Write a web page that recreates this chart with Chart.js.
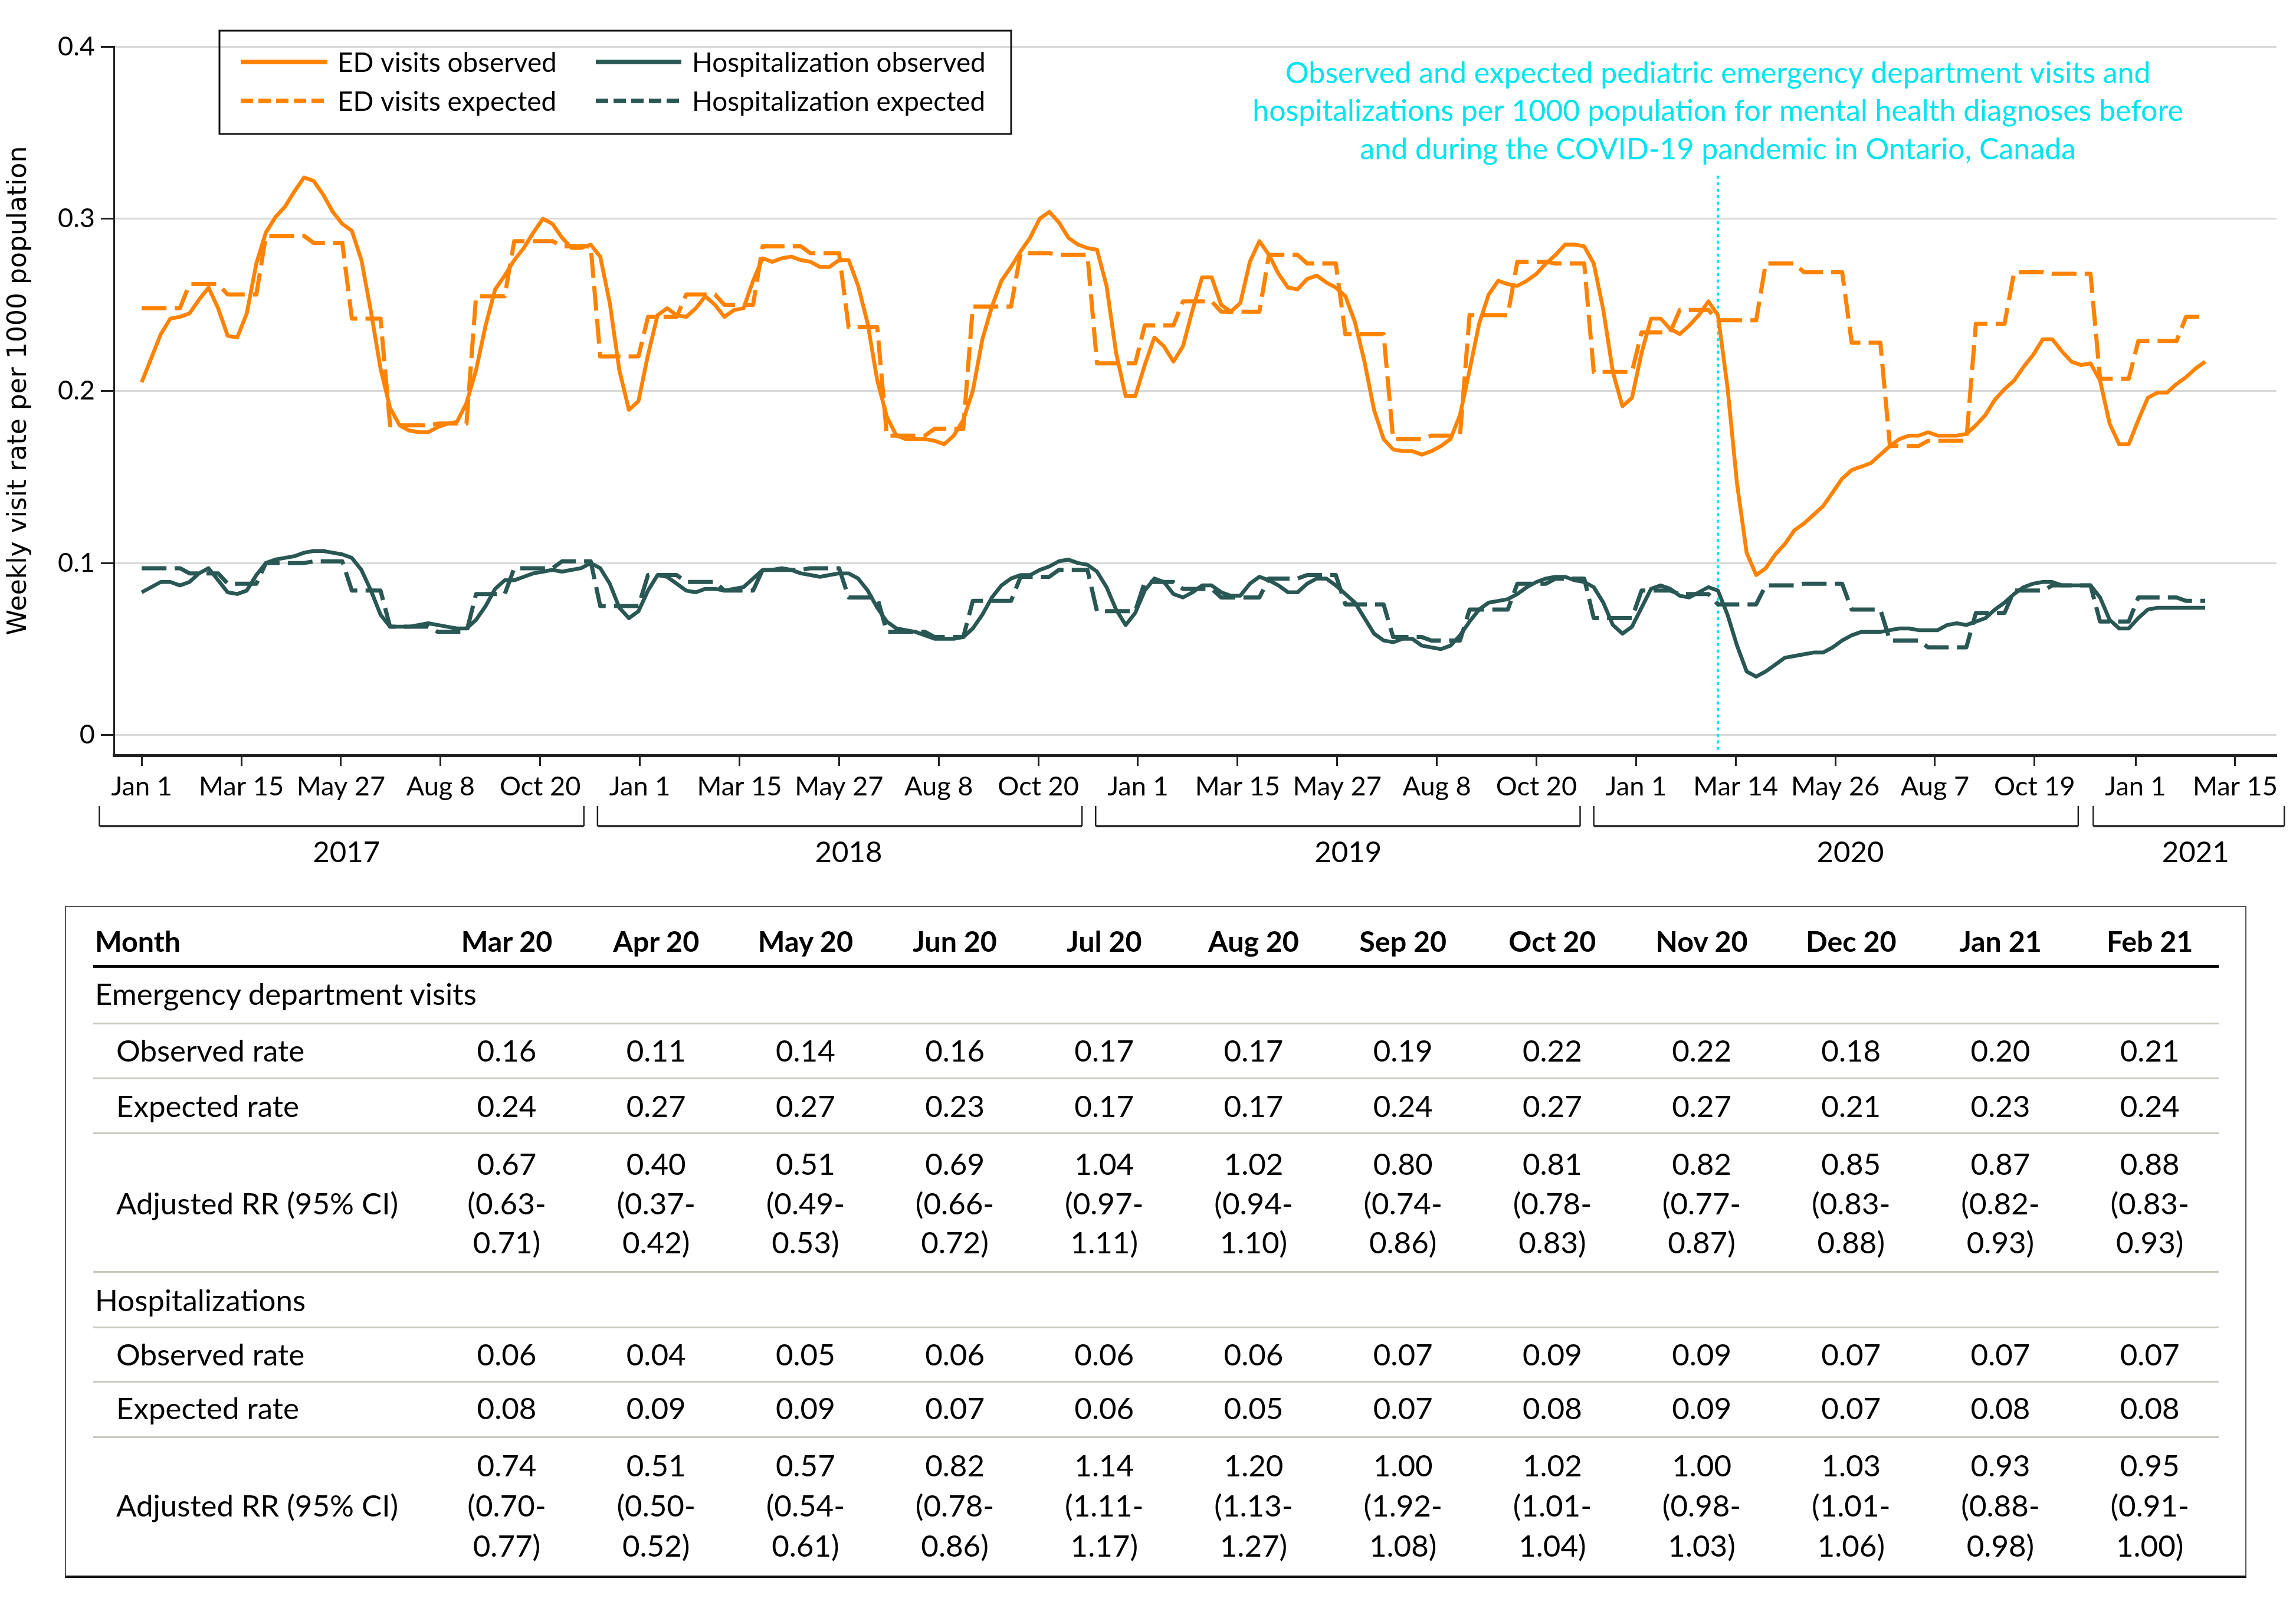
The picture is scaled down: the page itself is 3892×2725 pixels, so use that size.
<!DOCTYPE html>
<html><head><meta charset="utf-8">
<script src="https://cdn.jsdelivr.net/npm/chart.js@4.4.1/dist/chart.umd.min.js"></script>
<style>
html,body{margin:0;padding:0;background:#fff;}
body{width:3892px;height:2725px;position:relative;overflow:hidden;font-family:Lato,"Liberation Sans",sans-serif;color:#000;}
#chartWrap{position:absolute;left:0;top:0;width:3892px;height:1500px;}
.t{position:absolute;white-space:nowrap;line-height:1;}
.rule{position:absolute;}
</style></head><body>
<div id="chartWrap"><canvas id="c" width="3892" height="1500"></canvas></div>
<script>
// ---------------- DATA ----------------
// Weekly rates per 1000 population, first week starting Jan 1, 2017, one value per week
const edObserved = [
0.205,0.219,0.233,0.242,0.243,0.245,0.253,0.260,0.248,0.232,
0.231,0.245,0.274,0.292,0.301,0.307,0.316,0.324,0.322,0.314,
0.304,0.297,0.293,0.276,0.246,0.213,0.190,0.180,0.177,0.176,
0.176,0.179,0.181,0.182,0.193,0.212,0.238,0.259,0.267,0.276,
0.283,0.292,0.300,0.297,0.289,0.283,0.283,0.285,0.278,0.251,
0.212,0.189,0.194,0.221,0.244,0.248,0.244,0.243,0.248,0.255,
0.250,0.243,0.247,0.248,0.264,0.277,0.275,0.277,0.278,0.276,
0.275,0.272,0.272,0.276,0.276,0.261,0.239,0.206,0.185,0.174,
0.172,0.172,0.172,0.171,0.169,0.174,0.183,0.200,0.230,0.249,
0.264,0.272,0.281,0.289,0.300,0.304,0.298,0.289,0.285,0.283,
0.282,0.261,0.222,0.197,0.197,0.215,0.231,0.226,0.217,0.226,
0.247,0.266,0.266,0.250,0.246,0.251,0.275,0.287,0.279,0.268,
0.260,0.259,0.265,0.267,0.263,0.260,0.255,0.240,0.217,0.189,
0.172,0.166,0.165,0.165,0.163,0.165,0.168,0.172,0.186,0.212,
0.239,0.256,0.264,0.262,0.261,0.264,0.268,0.274,0.279,0.285,
0.285,0.284,0.274,0.247,0.211,0.191,0.196,0.222,0.242,0.242,
0.236,0.233,0.238,0.244,0.252,0.244,0.202,0.146,0.106,0.093,
0.097,0.105,0.111,0.119,0.123,0.128,0.133,0.141,0.149,0.154,
0.156,0.158,0.163,0.168,0.172,0.174,0.174,0.176,0.174,0.174,
0.174,0.175,0.180,0.186,0.195,0.201,0.206,0.214,0.221,0.230,
0.230,0.223,0.217,0.215,0.216,0.206,0.181,0.169,0.169,0.183,
0.196,0.199,0.199,0.204,0.208,0.213,0.217];
const hospObserved = [
0.083,0.086,0.089,0.089,0.087,0.089,0.094,0.097,0.090,0.083,
0.082,0.084,0.093,0.100,0.102,0.103,0.104,0.106,0.107,0.107,
0.106,0.105,0.103,0.096,0.084,0.070,0.063,0.063,0.063,0.064,
0.065,0.064,0.063,0.062,0.062,0.067,0.075,0.085,0.090,0.090,
0.092,0.094,0.095,0.096,0.095,0.096,0.097,0.100,0.097,0.088,
0.074,0.068,0.072,0.084,0.093,0.092,0.088,0.084,0.083,0.085,
0.085,0.084,0.085,0.086,0.091,0.096,0.096,0.097,0.096,0.094,
0.093,0.092,0.093,0.094,0.094,0.091,0.084,0.074,0.066,0.062,
0.061,0.060,0.058,0.056,0.056,0.056,0.057,0.062,0.070,0.080,
0.087,0.091,0.093,0.093,0.096,0.098,0.101,0.102,0.100,0.099,
0.095,0.086,0.073,0.064,0.071,0.084,0.091,0.089,0.082,0.080,
0.083,0.087,0.087,0.083,0.081,0.081,0.088,0.092,0.090,0.087,
0.083,0.083,0.088,0.091,0.091,0.087,0.082,0.077,0.068,0.059,
0.055,0.054,0.056,0.056,0.052,0.051,0.050,0.052,0.058,0.066,
0.073,0.077,0.078,0.079,0.082,0.086,0.089,0.091,0.092,0.092,
0.090,0.089,0.086,0.077,0.064,0.059,0.063,0.074,0.085,0.087,
0.085,0.081,0.080,0.083,0.086,0.084,0.070,0.052,0.037,0.034,
0.037,0.041,0.045,0.046,0.047,0.048,0.048,0.051,0.055,0.058,
0.060,0.060,0.060,0.061,0.062,0.062,0.061,0.061,0.061,0.064,
0.065,0.064,0.066,0.068,0.073,0.077,0.082,0.086,0.088,0.089,
0.089,0.087,0.087,0.087,0.087,0.080,0.067,0.062,0.062,0.068,
0.073,0.074,0.074,0.074,0.074,0.074,0.074];
// Monthly expected rates, Jan 2017 .. Feb 2021
const edExpected = [
0.248,0.262,0.256,0.290,0.286,0.242,0.180,0.181,0.255,0.287,0.284,0.220,
0.243,0.256,0.250,0.284,0.280,0.237,0.174,0.178,0.249,0.280,0.279,0.216,
0.238,0.252,0.246,0.279,0.274,0.233,0.172,0.174,0.244,0.275,0.274,0.211,
0.234,0.247,0.241,0.274,0.269,0.228,0.168,0.171,0.239,0.269,0.268,0.207,
0.229,0.243];
const hospExpected = [
0.097,0.094,0.088,0.100,0.101,0.084,0.063,0.060,0.082,0.097,0.101,0.075,
0.093,0.089,0.084,0.096,0.097,0.080,0.060,0.057,0.078,0.092,0.096,0.072,
0.089,0.085,0.080,0.091,0.093,0.076,0.057,0.055,0.073,0.088,0.091,0.068,
0.084,0.082,0.076,0.087,0.088,0.073,0.055,0.051,0.071,0.084,0.087,0.066,
0.080,0.078];
const seriesLabels = ['ED visits observed','Hospitalization observed','ED visits expected','Hospitalization expected'];
// x axis: days since Jan 1, 2017
const xTickDays = [0,73,146,219,292, 365,438,511,584,657, 730,803,876,949,1022, 1095,1168,1241,1314,1387, 1461,1534];
const xTickLabels = ['Jan 1','Mar 15','May 27','Aug 8','Oct 20','Jan 1','Mar 15','May 27','Aug 8','Oct 20',
  'Jan 1','Mar 15','May 27','Aug 8','Oct 20','Jan 1','Mar 14','May 26','Aug 7','Oct 19','Jan 1','Mar 15'];
const yTickValues = [0,0.1,0.2,0.3,0.4];
const yTickLabels = ['0','0.1','0.2','0.3','0.4'];
const yearLabels = ['2017','2018','2019','2020','2021'];
const yearSpanDays = [[-31,324],[334,689],[699,1054],[1064,1419],[1430,1570]];
const yearLabelDays = [150,518,884,1252,1505];
const pandemicStartDay = 1155; // Mar 1, 2020
const annotationLines = ['Observed and expected pediatric emergency department visits and',
  'hospitalizations per 1000 population for mental health diagnoses before',
  'and during the COVID-19 pandemic in Ontario, Canada'];
const yTitle = 'Weekly visit rate per 1000 population';
// table
const tableMonths = ['Mar 20','Apr 20','May 20','Jun 20','Jul 20','Aug 20','Sep 20','Oct 20','Nov 20','Dec 20','Jan 21','Feb 21'];
const edObsRate  = [0.16,0.11,0.14,0.16,0.17,0.17,0.19,0.22,0.22,0.18,0.20,0.21];
const edExpRate  = [0.24,0.27,0.27,0.23,0.17,0.17,0.24,0.27,0.27,0.21,0.23,0.24];
const edRR       = ['0.67','0.40','0.51','0.69','1.04','1.02','0.80','0.81','0.82','0.85','0.87','0.88'];
const edRRLow    = ['0.63','0.37','0.49','0.66','0.97','0.94','0.74','0.78','0.77','0.83','0.82','0.83'];
const edRRHigh   = ['0.71','0.42','0.53','0.72','1.11','1.10','0.86','0.83','0.87','0.88','0.93','0.93'];
const hospObsRate = [0.06,0.04,0.05,0.06,0.06,0.06,0.07,0.09,0.09,0.07,0.07,0.07];
const hospExpRate = [0.08,0.09,0.09,0.07,0.06,0.05,0.07,0.08,0.09,0.07,0.08,0.08];
const hospRR      = ['0.74','0.51','0.57','0.82','1.14','1.20','1.00','1.02','1.00','1.03','0.93','0.95'];
const hospRRLow   = ['0.70','0.50','0.54','0.78','1.11','1.13','1.92','1.01','0.98','1.01','0.88','0.91'];
const hospRRHigh  = ['0.77','0.52','0.61','0.86','1.17','1.27','1.08','1.04','1.03','1.06','0.98','1.00'];

// ---------------- STYLE ----------------
const ORANGE = '#FF8200', TEAL = '#295754', CYAN = '#00E3EE';
const FAM = 'Lato';

function build() {
  const mctx = document.createElement('canvas').getContext('2d');
  function fit(samples, family, weight) {
    let s = 0;
    samples.forEach(([t, w]) => { mctx.font = (weight || 'normal') + ' 100px ' + family; s += 100 * w / mctx.measureText(t).width; });
    return s / samples.length;
  }
  const tickSize = fit([['Jan 1',107],['Mar 15',141],['May 27',149],['Aug 8',119],['Oct 20',134]], FAM);
  const yTickSize = fit([['0.4',63]], FAM);
  const yearSize = fit([['2017',114]], FAM);
  const legSize = fit([['ED visits observed',368],['Hospitalization observed',503]], FAM);
  const annSize = fit([[annotationLines[0],1466],[annotationLines[1],1594],[annotationLines[2],1202]], FAM);
  const titleSize = fit([[yTitle,829]], '"DejaVu Sans"');
  const bodySize = fit([['Observed rate',307],['Expected rate',303],['Emergency department visits',648],['Adjusted RR (95% CI)',470],['0.16',101],['(0.63-',144]], FAM);
  const headSize = fit([['Month',145],['Mar 20',151],['Sep 20',150],['Feb 21',149]], FAM, 'bold');

  const START = Date.UTC(2017,0,1);
  const dayOf = (y,m,d) => Math.round((Date.UTC(y,m,d) - START) / 86400000);
  const weekly = arr => arr.map((v,i) => ({x: 7*i, y: v}));
  const nWeeks = edObserved.length;
  function monthlySteps(values) {
    const pts = [];
    values.forEach((v, m) => {
      const yr = 2017 + Math.floor(m/12), mo = m % 12;
      const a = dayOf(yr, mo, 1), b = dayOf(yr, mo+1, 1);
      const wk = [];
      for (let w = 0; w < nWeeks; w++) if (7*w >= a && 7*w < b) wk.push(7*w);
      if (wk.length) { pts.push({x: wk[0], y: v}); if (wk.length > 1) pts.push({x: wk[wk.length-1], y: v}); }
    });
    return pts;
  }

  const capCenterBaseline = (ctx, yc) => { const m = ctx.measureText('H'); return yc + m.actualBoundingBoxAscent/2; };

  const overlay = {
    id: 'overlay',
    beforeDatasetsDraw(chart) {
      const {ctx, chartArea, scales:{x, y}} = chart;
      const lx = x.getPixelForValue(pandemicStartDay);
      ctx.save();
      ctx.strokeStyle = CYAN; ctx.lineWidth = 4; ctx.setLineDash([5,6]);
      ctx.beginPath(); ctx.moveTo(lx, y.getPixelForValue(0.325)); ctx.lineTo(lx, chartArea.bottom - 9); ctx.stroke();
      ctx.restore();
    },
    afterDraw(chart) {
      const {ctx, chartArea, scales:{x, y}} = chart;
      const lx = x.getPixelForValue(pandemicStartDay);
      ctx.save();
      // annotation
      ctx.fillStyle = CYAN; ctx.font = annSize + 'px ' + FAM; ctx.textAlign = 'center'; ctx.textBaseline = 'alphabetic';
      [123, 187, 252].forEach((yc, i) => ctx.fillText(annotationLines[i], lx, capCenterBaseline(ctx, yc)));
      // y title
      ctx.font = titleSize + 'px "DejaVu Sans"'; ctx.fillStyle = '#000';
      const tm = ctx.measureText(yTitle);
      ctx.save(); ctx.translate(31.5, 662); ctx.rotate(-Math.PI/2);
      ctx.textAlign = 'center';
      ctx.fillText(yTitle, 0, (tm.actualBoundingBoxAscent - tm.actualBoundingBoxDescent)/2);
      ctx.restore();
      // legend
      ctx.strokeStyle = '#111'; ctx.lineWidth = 3; ctx.setLineDash([]);
      ctx.strokeRect(372, 52, 1342, 175);
      const ds = chart.data.datasets;
      const rowsY = [105, 171], lineX = [[408,555],[1010,1155]], textX = [572, 1173];
      ctx.font = legSize + 'px ' + FAM; ctx.textAlign = 'left';
      ds.forEach((d, i) => {
        const col = i % 2, row = Math.floor(i / 2);
        ctx.strokeStyle = d.borderColor; ctx.lineWidth = 7.5;
        ctx.setLineDash(d.borderDash ? [21, 9] : []);
        ctx.beginPath(); ctx.moveTo(lineX[col][0], rowsY[row]); ctx.lineTo(lineX[col][1], rowsY[row]); ctx.stroke();
        ctx.setLineDash([]);
        ctx.fillStyle = '#000';
        ctx.fillText(d.label, textX[col], capCenterBaseline(ctx, rowsY[row]));
      });
      // year brackets
      ctx.strokeStyle = '#222'; ctx.fillStyle = '#000';
      ctx.font = yearSize + 'px ' + FAM; ctx.textAlign = 'center';
      yearSpanDays.forEach(([a, b], i) => {
        const pa = x.getPixelForValue(a), pb = x.getPixelForValue(b);
        ctx.lineWidth = 2.5;
        ctx.beginPath(); ctx.moveTo(pa, 1366); ctx.lineTo(pa, 1400); ctx.moveTo(pb, 1366); ctx.lineTo(pb, 1400); ctx.stroke();
        ctx.lineWidth = 3.5;
        ctx.beginPath(); ctx.moveTo(pa, 1400); ctx.lineTo(pb, 1400); ctx.stroke();
        ctx.fillText(yearLabels[i], x.getPixelForValue(yearLabelDays[i]), capCenterBaseline(ctx, 1443));
      });
      ctx.restore();
    }
  };

  Chart.defaults.font.family = FAM;
  new Chart(document.getElementById('c'), {
    type: 'line',
    data: {
      datasets: [
        {label: seriesLabels[0], data: weekly(edObserved), borderColor: ORANGE, borderWidth: 6.5},
        {label: seriesLabels[1], data: weekly(hospObserved), borderColor: TEAL, borderWidth: 6.5},
        {label: seriesLabels[2], data: monthlySteps(edExpected), borderColor: ORANGE, borderWidth: 7, borderDash: [42, 14]},
        {label: seriesLabels[3], data: monthlySteps(hospExpected), borderColor: TEAL, borderWidth: 7, borderDash: [42, 14]}
      ]
    },
    options: {
      responsive: false, animation: false, devicePixelRatio: 1,
      layout: {padding: {top: 79, right: 33, left: 0, bottom: 0}},
      elements: {point: {radius: 0}, line: {tension: 0, fill: false, borderJoinStyle: 'round'}},
      plugins: {legend: {display: false}, tooltip: {enabled: false}},
      scales: {
        x: {
          type: 'linear', min: -20.4, max: 1564.3,
          afterBuildTicks: s => { s.ticks = xTickDays.map(v => ({value: v})); },
          afterFit: s => { s.height = 220; },
          ticks: {autoSkip: false, maxRotation: 0, minRotation: 0, color: '#000', padding: 8,
            font: {family: FAM, size: tickSize}, callback: (v, i) => xTickLabels[i]},
          grid: {drawOnChartArea: false, drawTicks: true, tickLength: 18, tickColor: '#222', tickWidth: 3},
          border: {display: true, color: '#222', width: 5}
        },
        y: {
          min: -0.0117, max: 0.4,
          afterBuildTicks: s => { s.ticks = yTickValues.map(v => ({value: v})); },
          afterFit: s => { s.width = 193; },
          ticks: {color: '#000', padding: 10, font: {family: FAM, size: yTickSize}, callback: (v, i) => yTickLabels[i]},
          grid: {color: '#d9d9d9', lineWidth: 3, tickColor: '#222', tickLength: 22, tickWidth: 3},
          border: {display: true, color: '#222', width: 3}
        }
      }
    },
    plugins: [overlay]
  });

  // ---------------- TABLE ----------------
  const box = document.createElement('div');
  box.style.cssText = 'position:absolute;left:110px;top:1535px;width:3694px;height:1133px;border:2px solid #555;border-bottom:4px solid #111;';
  document.body.appendChild(box);
  function rule(y, h, color) {
    const d = document.createElement('div'); d.className = 'rule';
    d.style.cssText = `left:158px;width:3603px;top:${y - h/2}px;height:${h}px;background:${color};`;
    document.body.appendChild(d);
  }
  function txt(s, x, yc, align, bold) {
    const d = document.createElement('div'); d.className = 't';
    d.textContent = s;
    d.style.fontSize = (bold ? headSize : bodySize) + 'px';
    d.style.fontWeight = bold ? '700' : '400';
    d.style.left = x + 'px'; d.style.top = yc + 'px';
    d.style.transform = align === 'center' ? 'translate(-50%,-53%)' : 'translate(0,-53%)';
    document.body.appendChild(d);
  }
  const colX = i => 859 + 253.2 * i;
  rule(1637, 5, '#000');
  [1734, 1827, 1920, 2155, 2249, 2341, 2435].forEach(y => rule(y, 3, '#c9cabe'));
  txt('Month', 161, 1596, 'left', true);
  tableMonths.forEach((m, i) => txt(m, colX(i), 1596, 'center', true));
  const sections = [
    {title: 'Emergency department visits', y: 1685, obs: edObsRate, exp: edExpRate, rr: edRR, lo: edRRLow, hi: edRRHigh, rows: [1781, 1875, [1973, 2040, 2106]]},
    {title: 'Hospitalizations', y: 2204, obs: hospObsRate, exp: hospExpRate, rr: hospRR, lo: hospRRLow, hi: hospRRHigh, rows: [2296, 2387, [2484, 2552, 2620]]}
  ];
  sections.forEach(s => {
    txt(s.title, 161, s.y, 'left');
    txt('Observed rate', 197, s.rows[0], 'left');
    txt('Expected rate', 197, s.rows[1], 'left');
    txt('Adjusted RR (95% CI)', 197, s.rows[2][1], 'left');
    tableMonths.forEach((_, i) => {
      txt(s.obs[i].toFixed(2), colX(i), s.rows[0], 'center');
      txt(s.exp[i].toFixed(2), colX(i), s.rows[1], 'center');
      txt(s.rr[i], colX(i), s.rows[2][0], 'center');
      txt('(' + s.lo[i] + '-', colX(i), s.rows[2][1], 'center');
      txt(s.hi[i] + ')', colX(i), s.rows[2][2], 'center');
    });
  });
}
Promise.all([document.fonts.load('100px Lato'), document.fonts.load('bold 100px Lato'), document.fonts.load('100px "DejaVu Sans"')])
  .then(build, build);
</script>
</body></html>
